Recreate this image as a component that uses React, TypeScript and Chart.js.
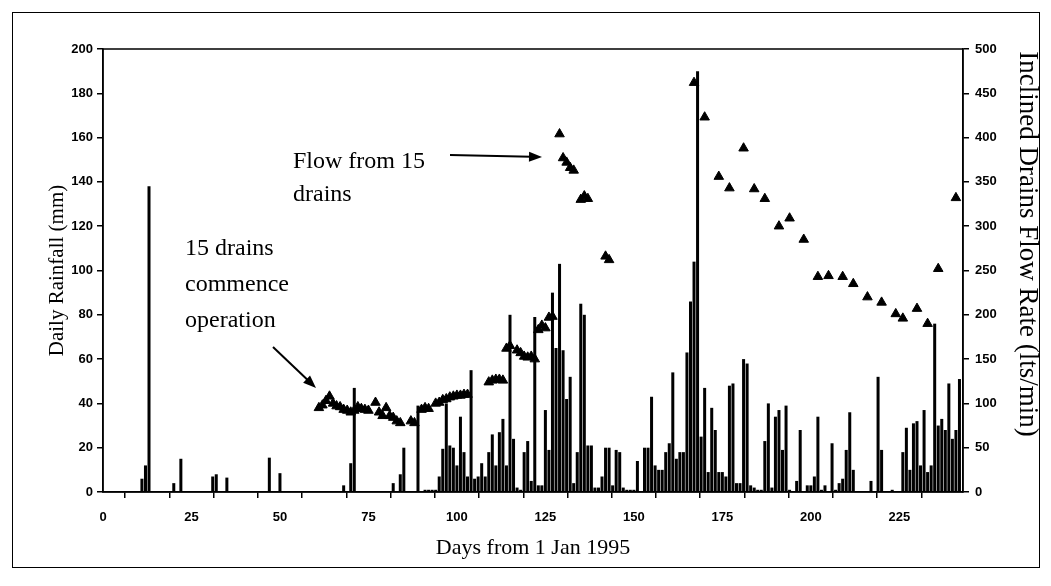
import React, { useEffect, useRef } from 'react';
import { Chart, registerables } from 'chart.js';

Chart.register(...registerables);

// Daily rainfall (mm) by day from 1 Jan 1995
const rainDays = [
  11, 12, 13, 20, 22, 31, 32, 35, 47, 50, 68, 70, 71, 82, 84, 85, 89, 91, 92, 93, 94,
  95, 96, 97, 98, 99, 100, 101, 102, 103, 104, 105, 106, 107, 108, 109, 110, 111, 112,
  113, 114, 115, 116, 117, 118, 119, 120, 121, 122, 123, 124, 125, 126, 127, 128, 129,
  130, 131, 132, 133, 134, 135, 136, 137, 138, 139, 140, 141, 142, 143, 144, 145, 146,
  147, 148, 149, 150, 151, 153, 154, 155, 156, 157, 158, 159, 160, 161, 162, 163, 164,
  165, 166, 167, 168, 169, 170, 171, 172, 173, 174, 175, 176, 177, 178, 179, 180, 181,
  182, 183, 184, 185, 186, 187, 188, 189, 190, 191, 192, 193, 194, 196, 197, 199, 200,
  201, 202, 203, 204, 206, 207, 208, 209, 210, 211, 212, 217, 219, 220, 223, 226, 227,
  228, 229, 230, 231, 232, 233, 234, 235, 236, 237, 238, 239, 240, 241, 242,
];
const rainMm = [
  6, 12, 138, 4, 15, 7, 8, 6.5, 15.5, 8.5, 3, 13, 47, 4, 8, 20, 39, 1, 1, 1, 1,
  7, 19.5, 40, 21, 20, 12, 34, 18, 7, 55, 6, 7, 13, 7, 18, 26, 12, 27,
  33, 12, 80, 24, 2, 1, 18, 23, 5, 79, 3, 3, 37, 19, 90, 65, 103,
  64, 42, 52, 4, 18, 85, 80, 21, 21, 2, 2, 7, 20, 20, 3, 19, 18,
  2, 1, 1, 1, 14, 20, 20, 43, 12, 10, 10, 18, 22, 54, 15, 18, 18,
  63, 86, 104, 190, 25, 47, 9, 38, 28, 9, 9, 7, 48, 49, 4, 4, 60,
  58, 3, 2, 1, 1, 23, 40, 2, 34, 37, 19, 39, 1, 5, 28, 3, 3,
  7, 34, 1, 3, 22, 1, 4, 6, 19, 36, 10, 5, 52, 19, 1, 18, 29,
  10, 31, 32, 12, 37, 9, 12, 76, 30, 33, 28, 49, 24, 28, 51,
];

// Inclined drains flow rate (lts/min)
const flowDays = [
  61, 62, 63, 64, 65, 66, 67, 68, 69, 70, 71, 72, 73, 74, 75, 77, 78, 79, 80, 81, 82, 83, 84,
  87, 88, 90, 91, 92, 94, 95, 96, 97, 98, 99, 100, 101, 102, 103,
  109, 110, 111, 112, 113, 114, 115, 117, 118, 119, 120, 121, 122, 123, 124, 125, 126, 127,
  129, 130, 131, 132, 133, 135, 136, 137, 142, 143,
  167, 170, 174, 177, 181, 184, 187, 191, 194, 198, 202, 205, 209, 212, 216, 220, 224, 226,
  230, 233, 236, 241,
];
const flowRate = [
  95, 98, 103, 108, 100, 97, 96, 93, 92, 90, 92, 96, 94, 93, 92, 101, 90, 86, 95, 86, 84, 80, 78,
  80, 78, 93, 95, 94, 100, 101, 104, 105, 107, 108, 109, 109, 110, 110,
  124, 126, 127, 127, 126, 162, 165, 160, 157, 153, 152, 153, 150, 183, 188, 185, 197, 198,
  404, 377, 372, 366, 363, 330, 334, 331, 266, 262,
  462, 423, 356, 343, 388, 342, 331, 300, 309, 285, 243, 244, 243, 235, 220, 214, 201, 196,
  207, 190, 252, 332,
];

const xTickValues = [
  0, 12.5, 25, 37.5, 50, 62.5, 75, 87.5, 100, 112.5, 125, 137.5, 150, 162.5, 175, 187.5,
  200, 212.5, 225, 237.5,
];

const noteFlow = ['Flow from 15', 'drains'];
const noteStart = ['15 drains', 'commence', 'operation'];
const rightTitle = 'Inclined Drains Flow Rate (lts/min)';

const SERIF = '"Liberation Serif", "Times New Roman", serif';
const SANS = '"Liberation Sans", Arial, sans-serif';

function drawArrow(ctx: CanvasRenderingContext2D, x1: number, y1: number, x2: number, y2: number) {
  const ang = Math.atan2(y2 - y1, x2 - x1);
  const hl = 13;
  const hw = 5;
  ctx.beginPath();
  ctx.moveTo(x1, y1);
  ctx.lineTo(x2 - Math.cos(ang) * hl * 0.8, y2 - Math.sin(ang) * hl * 0.8);
  ctx.lineWidth = 2;
  ctx.stroke();
  ctx.beginPath();
  ctx.moveTo(x2, y2);
  ctx.lineTo(x2 - Math.cos(ang) * hl - Math.sin(ang) * hw, y2 - Math.sin(ang) * hl + Math.cos(ang) * hw);
  ctx.lineTo(x2 - Math.cos(ang) * hl + Math.sin(ang) * hw, y2 - Math.sin(ang) * hl - Math.cos(ang) * hw);
  ctx.closePath();
  ctx.fill();
}

const decorPlugin = {
  id: 'decor',
  beforeDraw(chart: any) {
    const { ctx, width, height } = chart;
    ctx.save();
    ctx.fillStyle = '#fff';
    ctx.fillRect(0, 0, width, height);
    ctx.restore();
  },
  afterDraw(chart: any) {
    const { ctx, chartArea } = chart;
    const { left, top, right, bottom } = chartArea;
    ctx.save();
    ctx.strokeStyle = '#000';
    ctx.fillStyle = '#000';
    ctx.lineWidth = 1.5;
    ctx.strokeRect(left, top, right - left, bottom - top);
    ctx.lineWidth = 1;
    ctx.strokeRect(12.5, 12.5, 1027, 555);

    ctx.font = `24px ${SERIF}`;
    ctx.textAlign = 'left';
    ctx.textBaseline = 'alphabetic';
    noteFlow.forEach((t, i) => ctx.fillText(t, 293, 168 + i * 33));
    noteStart.forEach((t, i) => ctx.fillText(t, 185, 255 + i * 36));

    drawArrow(ctx, 450, 155, 542, 157);
    drawArrow(ctx, 273, 347, 316, 388);

    ctx.save();
    ctx.translate(1027, 244);
    ctx.rotate(Math.PI / 2);
    ctx.font = `27px ${SERIF}`;
    ctx.textAlign = 'center';
    ctx.textBaseline = 'middle';
    ctx.fillText(rightTitle, 0, 0);
    ctx.restore();

    ctx.restore();
  },
};

export default function App() {
  const ref = useRef<HTMLCanvasElement | null>(null);

  useEffect(() => {
    document.body.style.margin = '0';
    const canvas = ref.current;
    if (!canvas) return;
    const tickFont = { family: SANS, size: 13, weight: 'bold' as const };
    const chart = new Chart(canvas, {
      type: 'bar',
      data: {
        datasets: [
          {
            type: 'line' as const,
            label: 'Flow',
            data: flowDays.map((d, i) => ({ x: d, y: flowRate[i] })),
            yAxisID: 'y1',
            showLine: false,
            pointStyle: 'triangle',
            pointRadius: 5.5,
            backgroundColor: '#000',
            borderColor: '#000',
            borderWidth: 1,
            order: 0,
          } as any,
          {
            type: 'bar' as const,
            label: 'Rainfall',
            data: rainDays.map((d, i) => ({ x: d, y: rainMm[i] })),
            yAxisID: 'y',
            backgroundColor: '#000',
            borderWidth: 0,
            barPercentage: 0.85,
            categoryPercentage: 1,
            order: 1,
          } as any,
        ],
      },
      options: {
        responsive: false,
        animation: false,
        devicePixelRatio: 1,
        layout: { padding: { top: 49, left: 0, right: 0, bottom: 0 } },
        plugins: { legend: { display: false }, tooltip: { enabled: false } },
        scales: {
          x: {
            type: 'linear',
            min: 0,
            max: 243,
            offset: false,
            afterBuildTicks: (s: any) => {
              s.ticks = xTickValues.map((v) => ({ value: v }));
            },
            afterFit: (s: any) => {
              s.height = 94;
            },
            ticks: {
              autoSkip: false,
              maxRotation: 0,
              color: '#000',
              font: tickFont,
              padding: 12,
              callback: (v: any) => (Number(v) % 25 === 0 ? String(v) : ''),
            },
            grid: { drawOnChartArea: false, tickLength: 6, color: '#000', lineWidth: 1.5 },
            border: { color: '#000', width: 1.5 },
            title: {
              display: true,
              text: 'Days from 1 Jan 1995',
              color: '#000',
              font: { family: SERIF, size: 22 },
              padding: { top: 0, bottom: 25 },
            },
          },
          y: {
            position: 'left',
            min: 0,
            max: 200,
            afterFit: (s: any) => {
              s.width = 103;
            },
            ticks: { stepSize: 20, color: '#000', font: tickFont, padding: 4 },
            grid: { drawOnChartArea: false, tickLength: 6, color: '#000', lineWidth: 1.5 },
            border: { color: '#000', width: 1.5 },
            title: {
              display: true,
              text: 'Daily Rainfall (mm)',
              color: '#000',
              font: { family: SERIF, size: 21 },
              padding: { top: 45, bottom: 0 },
            },
          },
          y1: {
            position: 'right',
            min: 0,
            max: 500,
            afterFit: (s: any) => {
              s.width = 88;
            },
            ticks: { stepSize: 50, color: '#000', font: tickFont, padding: 6 },
            grid: { drawOnChartArea: false, tickLength: 6, color: '#000', lineWidth: 1.5 },
            border: { color: '#000', width: 1.5 },
            title: { display: false },
          },
        },
      } as any,
      plugins: [decorPlugin],
    });
    return () => chart.destroy();
  }, []);

  return (
    <div style={{ position: 'absolute', left: 0, top: 0, width: 1051, height: 586, background: '#fff' }}>
      <canvas ref={ref} width={1051} height={586} style={{ display: 'block' }} />
    </div>
  );
}
